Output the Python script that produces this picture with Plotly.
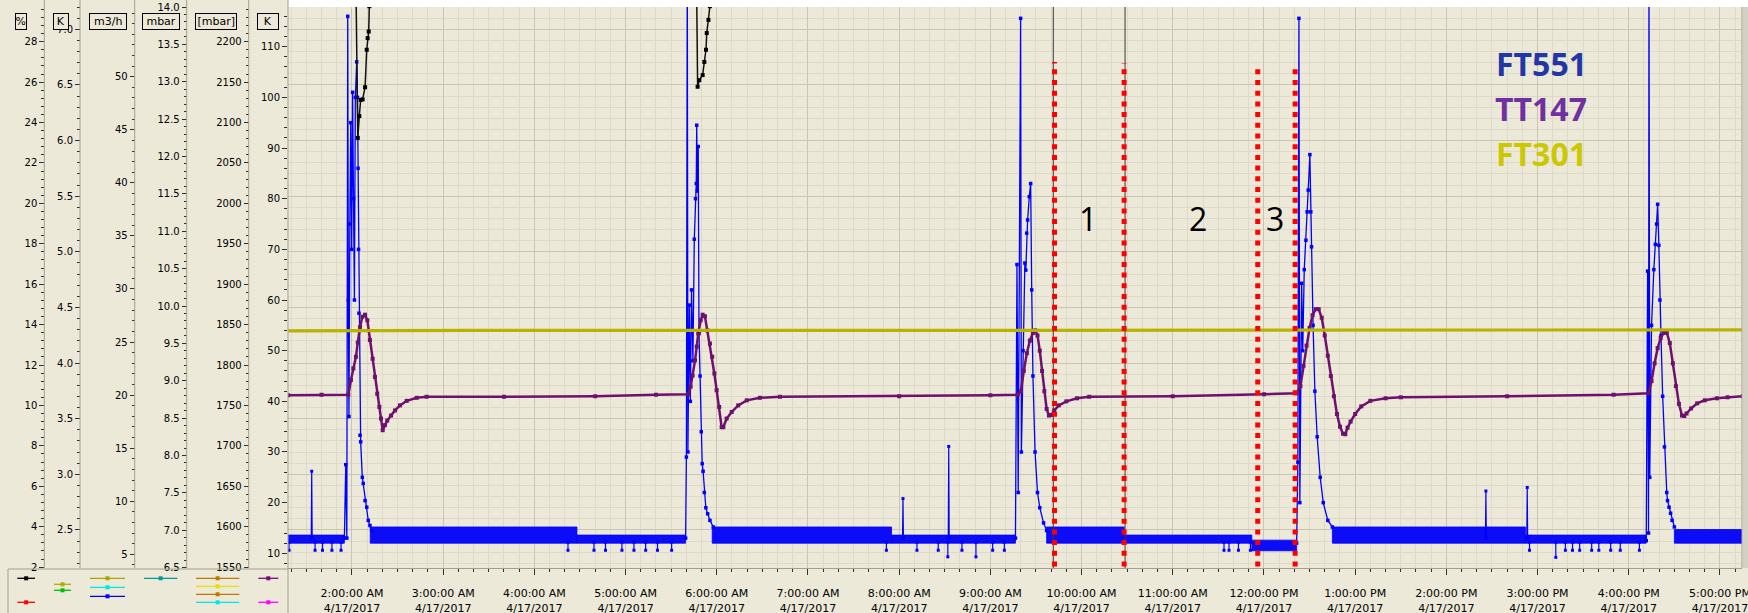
import plotly.graph_objects as go
import pandas as pd

W, H = 1748, 613
BASE = pd.Timestamp("2017-04-17 00:00:00")

# ---------------- data (time = minutes after midnight, 4/17/2017) ----------------
# FT551 (blue) : start-up events
ft551_t = [115.0, 115.9, 116.6, 117.2, 117.6, 118.0, 118.6, 119.2, 119.8, 120.4, 121.0, 121.6, 122.2, 123.1,
           123.6, 124.0, 124.3, 124.6, 125.3, 125.7, 126.8, 127.4, 128.6, 129.7, 130.7, 131.8, 133.0, None,
           339.5, 340.0, 340.6, 341.0, 341.9, 342.6, 343.4, 344.3, 345.2, 346.0, 346.5, 346.8, 347.2, 347.8,
           348.3, 349.0, 349.8, 350.4, 351.0, 351.8, 352.8, 354.0, 355.5, 357.7, None,
           556.5, 557.5, 558.3, 559.9, 560.4, 561.5, 562.7, 563.3, 563.9, 564.5, 565.6, 566.5, 567.2, 568.0,
           569.4, 571.0, 572.5, 575.0, 577.0, None,
           741.5, 742.3, 743.0, 743.6, 744.8, 745.5, 746.5, 747.6, 748.4, 749.1, 750.2, 750.8, 751.3, 752.3,
           753.5, 755.0, 757.0, 759.0, 762.0, 765.0, None,
           971.5, 972.4, 973.0, 973.3, 973.8, 975.0, 976.5, 977.5, 978.3, 979.0, 979.8, 980.5, 981.2, 982.3,
           983.5, 985.0, 985.5, 986.5, 987.5, 988.5, 990.0]
ft551_v = [13.0, 27.5, 13.0, 116.0, 60.0, 37.0, 75.0, 95.0, 70.0, 101.0, 80.0, 60.0, 100.0, 107.0,
           100.0, 86.0, 70.0, 57.4, 33.3, 32.0, 25.0, 23.8, 20.4, 19.1, 16.5, 15.5, 14.5, None,
           13.0, 29.0, 125.0, 30.0, 59.0, 40.0, 62.0, 48.0, 72.0, 80.0, 83.0, 94.5, 81.5, 90.3,
           53.4, 45.0, 34.0, 27.7, 26.2, 22.0, 19.0, 17.8, 16.5, 15.2, None,
           13.0, 67.0, 22.0, 115.6, 30.0, 50.0, 67.3, 65.9, 73.2, 75.8, 80.4, 83.0, 62.0, 45.0,
           30.0, 22.0, 19.0, 16.0, 14.5, None,
           12.0, 28.0, 115.6, 20.0, 63.3, 50.0, 66.0, 71.8, 77.4, 81.7, 88.7, 77.4, 70.5, 55.0,
           42.0, 33.0, 25.0, 20.0, 16.5, 15.2, None,
           12.5, 65.7, 14.0, 125.0, 25.0, 55.0, 66.0, 71.0, 75.0, 78.9, 70.8, 60.0, 53.0, 41.0,
           31.0, 22.0, 20.4, 19.1, 17.9, 16.5, 15.2]

# FT551 dense base-level band (start, end, low, high)
band_start = [78.0, 132.0, 268.0, 357.0, 475.0, 577.0, 628.0, 712.0, 765.0, 892.0, 990.0]
band_end = [115.0, 268.0, 339.5, 475.0, 556.5, 628.0, 712.0, 741.5, 892.0, 971.5, 1035.0]
band_low = [12.0, 12.0, 12.0, 12.0, 12.0, 12.0, 12.0, 10.5, 12.0, 12.0, 12.0]
band_high = [13.6, 15.2, 13.6, 15.2, 13.6, 15.2, 13.6, 12.6, 15.2, 13.6, 14.7]

# FT551 isolated dips and spikes
dip_t = [78.6, 95.7, 100.6, 106.8, 112.8, 262.1, 279.2, 286.8, 297.6, 305.5, 313.2, 321.0, 330.3,
         471.6, 491.7, 505.7, 512.0, 521.3, 530.5, 541.5, 549.2, 693.7, 697.0, 703.2, 711.1,
         894.7, 912.0, 918.3, 923.0, 927.7, 935.6, 940.3, 948.1, 954.4, 967.0]
dip_v = [10.6, 10.6, 10.6, 10.6, 10.6, 10.6, 10.6, 10.6, 10.6, 10.6, 10.6, 10.6, 10.6,
         10.6, 10.6, 10.6, 9.3, 10.6, 9.3, 10.6, 10.6, 10.6, 10.6, 10.6, 10.6,
         10.6, 9.2, 10.6, 10.6, 10.6, 10.6, 10.6, 10.6, 10.6, 10.6]
spike_t = [93.5, 482.5, 512.6, 866.0, 893.2]
spike_v = [26.2, 20.8, 31.1, 22.3, 23.0]

# TT147 (purple)
tt147_t = [78.0, 100.0, 117.6, 119.3, 120.9, 122.6, 123.8, 125.3, 126.8, 128.6, 130.1, 131.8, 133.6, 135.1,
           136.6, 138.0, 139.1, 140.2, 141.7, 143.2, 145.7, 148.3, 151.6, 156.0, 162.6, 169.1, 220.0, 280.0,
           320.0, 341.3, 342.8, 344.1, 345.7, 346.8, 347.8, 349.4, 350.7, 352.2, 353.8, 355.5, 357.0, 358.4,
           359.9, 361.6, 363.2, 364.3, 366.5, 369.8, 374.1, 379.7, 388.4, 401.6, 480.0, 540.0, 558.0, 560.0,
           562.0, 564.0, 566.0, 568.0, 569.5, 571.0, 572.5, 574.0, 575.5, 577.0, 578.5, 580.0, 582.0, 585.0,
           590.0, 597.0, 605.0, 660.0, 720.0, 741.5, 744.0, 746.0, 748.0, 750.0, 752.0, 754.0, 756.0, 758.0,
           760.0, 762.0, 764.0, 766.0, 768.0, 770.0, 772.0, 773.5, 775.0, 777.0, 780.0, 784.0, 790.0, 800.0,
           810.0, 880.0, 950.0, 973.0, 975.0, 977.0, 979.0, 981.0, 983.0, 985.0, 987.0, 989.0, 991.0, 993.0,
           995.0, 996.5, 998.0, 1001.0, 1005.0, 1010.0, 1018.0, 1025.0, 1035.0]
tt147_v = [41.2, 41.3, 41.3, 44.2, 46.5, 48.8, 51.6, 54.7, 56.7, 57.1, 56.0, 52.1, 48.4, 44.8,
           41.5, 38.9, 36.6, 34.3, 35.3, 36.2, 37.2, 38.2, 39.2, 40.1, 40.7, 40.9, 40.9, 41.0,
           41.3, 41.4, 42.9, 45.1, 48.1, 50.8, 53.4, 56.0, 57.1, 56.8, 54.0, 51.4, 48.8, 45.5,
           42.2, 38.9, 34.9, 34.9, 36.6, 37.9, 39.2, 40.2, 40.7, 40.9, 41.0, 41.2, 41.3, 42.0,
           46.0, 49.5, 52.0, 53.5, 54.0, 53.0, 50.0, 46.0, 42.0, 38.5, 37.2, 37.3, 38.2, 39.2,
           40.0, 40.6, 40.9, 41.0, 41.4, 41.6, 43.0, 47.0, 51.0, 54.5, 57.0, 58.2, 58.2, 56.5,
           53.0, 49.0, 45.0, 41.0, 37.5, 35.0, 33.6, 33.5, 34.8, 36.0, 37.5, 39.0, 40.1, 40.6,
           40.8, 41.0, 41.3, 41.6, 44.0, 47.5, 50.5, 52.5, 53.5, 53.6, 51.5, 47.5, 43.0, 39.5,
           37.2, 37.1, 37.6, 38.6, 39.6, 40.2, 40.6, 40.8, 41.0]

# FT301 (yellow)
ft301_t = [78.0, 200.0, 400.0, 600.0, 800.0, 1035.0]
ft301_v = [53.9, 54.0, 54.0, 54.0, 54.1, 54.1]

# black trace (mostly off scale)
black_t = [122.5, 123.8, 124.8, 125.7, 127.0, 128.6, 129.7, 130.3, 131.0, 131.4, 132.0, None,
           346.6, 347.4, 348.5, 350.7, 351.8, 352.9, 353.4, 354.5, 355.5, 356.0]
black_v = [125.0, 92.0, 96.3, 99.5, 99.6, 102.0, 109.4, 111.7, 113.0, 118.0, 125.0, None,
           125.0, 102.1, 103.4, 104.4, 107.0, 109.4, 112.7, 115.3, 118.0, 125.0]

# cursors and marked periods
cursor_t = [581.4, 628.6]
red_t = [582.2, 628.0, 715.9, 740.5]
red_top = [107.0, 106.8, 106.2, 106.3]
period_labels = ["1", "2", "3"]
period_t = [604.4, 676.7, 727.2]
period_v = [76.1, 76.1, 76.1]

legend_names = ["FT551", "TT147", "FT301"]
legend_colors = ["#2236A8", "#7030A0", "#CCC800"]

unit_labels = ["%", "K", "m3/h", "mbar", "[mbar]", "K"]
m3h_ticks = [5, 10, 15, 20, 25, 30, 35, 40, 45, 50]

# ---------------- helpers ----------------
def T(m):
    return None if m is None else BASE + pd.Timedelta(minutes=m)

def tl(ms):
    return [T(m) for m in ms]

def px(x):
    return x / W

def py(y):
    return 1 - y / H

BLUE = "#0000FF"
PURPLE = "#6E106E"
YELLOW = "#B7B300"
BG = "#ECE9D8"
AXL = "#A29F8E"
GRID_MAJ = "#C9C5B3"
GRID_MIN = "#DEDACA"
TICKC = "#303030"
FONT = "DejaVu Sans"

fig = go.Figure()

# band
for s, e, lo, hi in zip(band_start, band_end, band_low, band_high):
    fig.add_trace(go.Scatter(x=tl([s, e, e, s, s]), y=[lo, lo, hi, hi, lo], mode="lines",
                             fill="toself", fillcolor="#0C0CF6", line=dict(color=BLUE, width=0.8),
                             hoverinfo="skip", showlegend=False))
# dips
dx, dy = [], []
for t, v in zip(dip_t, dip_v):
    dx += [T(t), T(t), None]
    dy += [12.2, v, None]
fig.add_trace(go.Scatter(x=dx, y=dy, mode="lines+markers", line=dict(color=BLUE, width=1.2),
                         marker=dict(symbol="square", size=3, color=BLUE), showlegend=False))
# spikes
sx, sy = [], []
for t, v in zip(spike_t, spike_v):
    sx += [T(t - 0.3), T(t), T(t + 0.3), None]
    sy += [13.0, v, 13.0, None]
fig.add_trace(go.Scatter(x=sx, y=sy, mode="lines+markers", line=dict(color=BLUE, width=1.2),
                         marker=dict(symbol="square", size=3, color=BLUE), showlegend=False))
# events
fig.add_trace(go.Scatter(x=tl(ft551_t), y=ft551_v, mode="lines+markers",
                         line=dict(color=BLUE, width=1.3), marker=dict(symbol="square", size=3.5, color=BLUE),
                         showlegend=False))
# TT147
fig.add_trace(go.Scatter(x=tl(tt147_t), y=tt147_v, mode="lines+markers",
                         line=dict(color=PURPLE, width=2.5), marker=dict(symbol="square", size=4, color=PURPLE),
                         showlegend=False))
# FT301
fig.add_trace(go.Scatter(x=tl(ft301_t), y=ft301_v, mode="lines",
                         line=dict(color=YELLOW, width=3.2), showlegend=False))
# black
fig.add_trace(go.Scatter(x=tl(black_t), y=black_v, mode="lines+markers",
                         line=dict(color="#101010", width=1.5), marker=dict(symbol="square", size=4, color="#000000"),
                         showlegend=False))
# dummy traces for the extra axes
for k in range(2, 7):
    fig.add_trace(go.Scatter(x=[None], y=[None], yaxis=f"y{k}", showlegend=False, hoverinfo="skip"))

xdom = [px(288), px(1742)]
ydom = [py(568), py(7)]

fig.update_layout(
    template="none",
    width=W, height=H,
    margin=dict(l=0, r=0, t=0, b=0),
    paper_bgcolor=BG, plot_bgcolor=BG,
    showlegend=False,
    font=dict(family=FONT, size=10, color="#000000"),
    xaxis=dict(
        type="date", domain=xdom, anchor="y",
        range=[T(77.9), T(1034.5)],
        tick0=BASE, dtick=3600000,
        tickformat="%-I:%M:%S %p<br>%-m/%-d/%Y",
        ticks="outside", ticklen=6, tickcolor=TICKC, tickwidth=1,
        ticklabelstandoff=9, ticklabeloverflow="allow",
        tickfont=dict(family=FONT, size=11, color="#000000"),
        showgrid=True, gridcolor=GRID_MAJ, gridwidth=1,
        minor=dict(dtick=600000, showgrid=True, gridcolor=GRID_MIN, ticks="outside", ticklen=3,
                   tickcolor=TICKC),
        showline=True, linecolor=AXL, linewidth=1, zeroline=False, automargin=False,
    ),
)

axis_common = dict(ticks="outside", ticklen=5, tickcolor=TICKC, tickwidth=1,
                   tickfont=dict(family=FONT, size=10, color="#000000"),
                   showline=False, zeroline=False, automargin=False)

fig.update_layout(
    yaxis=dict(domain=ydom, anchor="x", range=[7.10, 117.84], tick0=0, dtick=10,
               minor=dict(dtick=2, ticks="outside", ticklen=3, tickcolor=TICKC),
               showgrid=False, **axis_common),
    yaxis2=dict(overlaying="y", anchor="free", position=px(44.3), side="left",
                range=[1.958, 29.717], tick0=0, dtick=2,
                minor=dict(dtick=0.4, ticks="outside", ticklen=3, tickcolor=TICKC),
                showgrid=False, **axis_common),
    yaxis3=dict(overlaying="y", anchor="free", position=px(80), side="left",
                range=[2.158, 7.201], tick0=0, dtick=0.5, tickformat=".1f",
                showgrid=True, gridcolor=GRID_MAJ, gridwidth=1,
                minor=dict(dtick=0.1, ticks="outside", ticklen=3, tickcolor=TICKC,
                           showgrid=True, gridcolor=GRID_MIN),
                **axis_common),
    yaxis4=dict(overlaying="y", anchor="free", position=px(134.7), side="left",
                range=[3.709, 56.57], tickmode="array", tickvals=m3h_ticks,
                minor=dict(dtick=1, tick0=0, ticks="outside", ticklen=3, tickcolor=TICKC),
                showgrid=False, **axis_common),
    yaxis5=dict(overlaying="y", anchor="free", position=px(186.7), side="left",
                range=[6.495, 14.0], tick0=0, dtick=0.5, tickformat=".1f",
                minor=dict(dtick=0.1, ticks="outside", ticklen=3, tickcolor=TICKC),
                showgrid=False, **axis_common),
    yaxis6=dict(overlaying="y", anchor="free", position=px(248.7), side="left",
                range=[1548.9, 2242.9], tick0=0, dtick=50,
                minor=dict(dtick=10, ticks="outside", ticklen=3, tickcolor=TICKC),
                showgrid=False, **axis_common),
)

shapes = []
# white strip above plot
shapes.append(dict(type="rect", xref="paper", yref="paper", x0=px(288), x1=1, y0=py(7), y1=1,
                   fillcolor="#FFFFFF", line=dict(width=0), layer="above"))
# left panel separators
for xx in [44.3, 80, 134.7, 186.7, 248.7]:
    shapes.append(dict(type="line", xref="paper", yref="paper", x0=px(xx), x1=px(xx), y0=py(0), y1=py(568),
                       line=dict(color=AXL, width=1)))
shapes.append(dict(type="line", xref="paper", yref="paper", x0=px(288), x1=px(288), y0=py(0), y1=py(613),
                   line=dict(color=AXL, width=1), layer="above"))
shapes.append(dict(type="line", xref="paper", yref="paper", x0=px(1742), x1=px(1742), y0=py(7), y1=py(568),
                   line=dict(color=AXL, width=1), layer="above"))
shapes.append(dict(type="line", xref="paper", yref="paper", x0=px(8), x1=px(288), y0=py(569), y1=py(569),
                   line=dict(color=AXL, width=1)))
shapes.append(dict(type="line", xref="paper", yref="paper", x0=px(8), x1=px(8), y0=py(569), y1=py(613),
                   line=dict(color=AXL, width=1)))
shapes.append(dict(type="rect", xref="paper", yref="paper", x0=px(1743), x1=1, y0=py(568), y1=py(7),
                   fillcolor="#D3D0C6", line=dict(width=0), layer="above"))
# legend glyphs of the trend tool
glyphs = [(17.3, 35, 578.3, "#000000"), (17.3, 35, 602.3, "#FF0000"),
          (54, 71, 584.3, "#B0AC00"), (54, 71, 590.3, "#00C000"),
          (90, 125, 578.3, "#A8A400"), (90, 125, 587.3, "#00E8E8"), (90, 125, 596.3, "#0000FF"),
          (144, 177.3, 578.3, "#009A9A"),
          (196, 239.3, 578.3, "#C07800"), (196, 239.3, 586.3, "#E8E000"),
          (196, 239.3, 594.3, "#C07800"), (196, 239.3, 602.3, "#00E8E8"),
          (258.3, 278.3, 578.3, "#7A0A7A"), (258.3, 278.3, 602.3, "#FF00FF")]
for x0, x1, yy, c in glyphs:
    shapes.append(dict(type="line", xref="paper", yref="paper", x0=px(x0), x1=px(x1), y0=py(yy), y1=py(yy),
                       line=dict(color=c, width=1.3)))
    xm = (x0 + x1) / 2
    shapes.append(dict(type="rect", xref="paper", yref="paper", x0=px(xm - 2), x1=px(xm + 2),
                       y0=py(yy + 2), y1=py(yy - 2), fillcolor=c, line=dict(width=0)))
# cursors
for t in cursor_t:
    shapes.append(dict(type="line", xref="x", yref="paper", x0=T(t), x1=T(t), y0=py(568), y1=py(7),
                       line=dict(color="#3A3A3A", width=1), layer="above"))
for t, top in zip(red_t, red_top):
    shapes.append(dict(type="line", xref="x", yref="y", x0=T(t), x1=T(t), y0=7.4, y1=top,
                       line=dict(color="#FF0000", width=5, dash="5px,5.7px"), layer="above"))

annotations = []
box_x = [20.8, 60.5, 107.5, 160.8, 215.5, 267.5]
box_w = [11.7, 15.6, 38.4, 38.3, 42.4, 21.6]
for lab, cx, bw in zip(unit_labels, box_x, box_w):
    annotations.append(dict(xref="paper", yref="paper", x=px(cx), y=py(21.7), text=lab, showarrow=False,
                            xanchor="center", yanchor="middle", width=bw - 2, height=15,
                            bgcolor=BG, bordercolor="#000000", borderwidth=1, borderpad=0,
                            font=dict(family=FONT, size=11, color="#000000")))
for name, col, yy in zip(legend_names, legend_colors, [63.3, 108.3, 153.3]):
    annotations.append(dict(xref="paper", yref="paper", x=px(1541), y=py(yy), text=f"<b>{name}</b>",
                            showarrow=False, xanchor="center", yanchor="middle",
                            font=dict(family="Open Sans", size=32, color=col)))
for lab, t, v in zip(period_labels, period_t, period_v):
    annotations.append(dict(xref="x", yref="y", x=T(t), y=v, text=lab, showarrow=False,
                            xanchor="center", yanchor="middle",
                            font=dict(family="Open Sans", size=32, color="#000000")))

fig.update_layout(shapes=shapes, annotations=annotations)
fig.write_html("out.html")
